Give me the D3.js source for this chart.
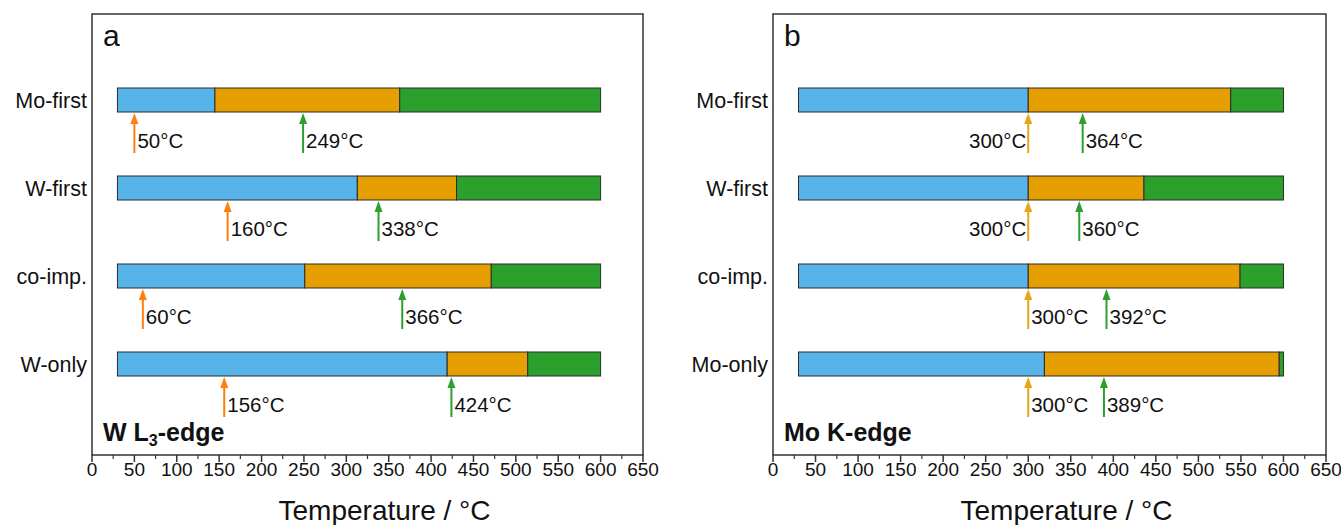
<!DOCTYPE html>
<html>
<head>
<meta charset="utf-8">
<script src="https://cdn.jsdelivr.net/npm/d3@7"></script>
<style>
  html, body { margin: 0; padding: 0; background: #fff; }
  svg { display: block; font-family: "Liberation Sans", Arial, sans-serif; }
</style>
</head>
<body>
<svg id="chart" width="1341" height="525"></svg>
<script>
// ---- data -------------------------------------------------------------
const tempStart = 30;
const tempEnd = 600;
const xTicks = [0, 50, 100, 150, 200, 250, 300, 350, 400, 450, 500, 550, 600, 650];

// Panel a: W L3-edge
const catsA = ["Mo-first", "W-first", "co-imp.", "W-only"];
const blueEndA = [145, 313, 251, 419];
const orangeEndA = [363, 430, 471, 514];
const orangeOnsetA = [50, 160, 60, 156];
const greenOnsetA = [249, 338, 366, 424];

// Panel b: Mo K-edge
const catsB = ["Mo-first", "W-first", "co-imp.", "Mo-only"];
const blueEndB = [300, 300, 300, 319];
const orangeEndB = [538, 436, 549, 595];
const orangeOnsetB = [300, 300, 300, 300];
const greenOnsetB = [364, 360, 392, 389];

// ---- styles -----------------------------------------------------------
const colBlue = "#56b4e9", colOrange = "#e69f00", colGreen = "#2ca02c";
const frameCol = "#333";
const textCol = "#111";

const svg = d3.select("#chart");

function drawPanel(opts) {
  const { left, right, top, bottom, letter, edgeMain, edgeSub, edgeTail,
          cats, blueEnd, orangeEnd, orangeOnset, greenOnset, orangeArrowCol } = opts;

  const g = svg.append("g");
  const x = d3.scaleLinear().domain([0, 650]).range([left, right]);
  const y = d3.scalePoint().domain(cats).range([top + 86, top + 350]);
  const barH = 24;

  // segments of each row: [from, to, colour]
  const rows = cats.map((c, i) => ({
    cat: c,
    segs: [
      [tempStart, blueEnd[i], colBlue],
      [blueEnd[i], orangeEnd[i], colOrange],
      [orangeEnd[i], tempEnd, colGreen]
    ],
    oOn: orangeOnset[i],
    gOn: greenOnset[i]
  }));

  rows.forEach(r => {
    const yc = y(r.cat);
    g.selectAll(null).data(r.segs).join("rect")
      .attr("x", d => x(d[0]))
      .attr("y", yc - barH / 2)
      .attr("width", d => Math.max(0, x(d[1]) - x(d[0])))
      .attr("height", barH)
      .attr("fill", d => d[2])
      .attr("stroke", "#2b2b2b")
      .attr("stroke-width", 1);

    // onset arrows below the bar
    const y0 = yc + barH / 2 + 1;
    const len = 40;
    const arrows = [
      { v: r.oOn, col: orangeArrowCol },
      { v: r.gOn, col: colGreen }
    ];
    const gap = x(r.gOn) - x(r.oOn);
    arrows.forEach((a, k) => {
      const ax = x(a.v);
      g.append("line")
        .attr("x1", ax).attr("x2", ax)
        .attr("y1", y0 + 8).attr("y2", y0 + len)
        .attr("stroke", a.col).attr("stroke-width", 2);
      g.append("path")
        .attr("d", `M${ax},${y0} L${ax - 4},${y0 + 11} L${ax + 4},${y0 + 11} Z`)
        .attr("fill", a.col);
      const leftSide = (k === 0 && gap < 60);
      g.append("text")
        .attr("x", leftSide ? ax - 2 : ax + 3)
        .attr("y", y0 + 35)
        .attr("text-anchor", leftSide ? "end" : "start")
        .attr("font-size", 20.5)
        .attr("fill", textCol)
        .text(a.v + "°C");
    });

    // category label
    g.append("text")
      .attr("x", left - 5)
      .attr("y", yc + 8)
      .attr("text-anchor", "end")
      .attr("font-size", 21.5)
      .attr("fill", textCol)
      .text(r.cat);
  });

  // frame
  g.append("rect")
    .attr("x", left).attr("y", top)
    .attr("width", right - left).attr("height", bottom - top)
    .attr("fill", "none").attr("stroke", frameCol).attr("stroke-width", 1.5);

  // bottom axis with major and minor ticks
  const minor = d3.range(25, 650, 50);
  g.selectAll(null).data(minor).join("line")
    .attr("x1", d => x(d)).attr("x2", d => x(d))
    .attr("y1", bottom).attr("y2", bottom + 4)
    .attr("stroke", frameCol).attr("stroke-width", 1.2);
  g.selectAll(null).data(xTicks).join("line")
    .attr("x1", d => x(d)).attr("x2", d => x(d))
    .attr("y1", bottom).attr("y2", bottom + 7)
    .attr("stroke", frameCol).attr("stroke-width", 1.5);
  g.selectAll(null).data(xTicks).join("text")
    .attr("x", d => x(d))
    .attr("y", bottom + 21)
    .attr("text-anchor", "middle")
    .attr("font-size", 19)
    .attr("fill", textCol)
    .text(d => d);

  g.append("text")
    .attr("x", (left + right) / 2 + 17)
    .attr("y", bottom + 65)
    .attr("text-anchor", "middle")
    .attr("font-size", 28)
    .attr("fill", textCol)
    .text("Temperature / °C");

  // panel letter
  g.append("text")
    .attr("x", left + 11)
    .attr("y", top + 32)
    .attr("font-size", 30)
    .attr("fill", textCol)
    .text(letter);

  // edge label
  const et = g.append("text")
    .attr("x", left + 11)
    .attr("y", bottom - 14)
    .attr("font-size", 25)
    .attr("font-weight", "bold")
    .attr("fill", textCol);
  et.append("tspan").text(edgeMain);
  if (edgeSub) {
    et.append("tspan").attr("font-size", 16).attr("dy", 5).text(edgeSub);
    et.append("tspan").attr("dy", -5).text(edgeTail);
  }
}

drawPanel({
  left: 92, right: 643, top: 14, bottom: 455,
  letter: "a", edgeMain: "W L", edgeSub: "3", edgeTail: "-edge",
  cats: catsA, blueEnd: blueEndA, orangeEnd: orangeEndA,
  orangeOnset: orangeOnsetA, greenOnset: greenOnsetA,
  orangeArrowCol: "#ff7f0e"
});

drawPanel({
  left: 773, right: 1326, top: 14, bottom: 455,
  letter: "b", edgeMain: "Mo K-edge", edgeSub: null, edgeTail: null,
  cats: catsB, blueEnd: blueEndB, orangeEnd: orangeEndB,
  orangeOnset: orangeOnsetB, greenOnset: greenOnsetB,
  orangeArrowCol: "#e8a317"
});
</script>
</body>
</html>
